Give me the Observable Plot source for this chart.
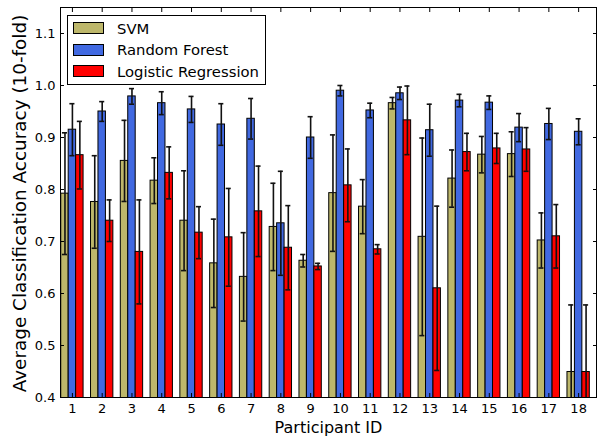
<!DOCTYPE html>
<html>
<head>
<meta charset="utf-8">
<script src="https://cdn.jsdelivr.net/npm/d3@7"></script>
<script src="https://cdn.jsdelivr.net/npm/@observablehq/plot@0.6"></script>
<style>
  html, body { margin: 0; padding: 0; background: #fff; }
  #wrap { position: relative; width: 597px; height: 436px; font-family: "DejaVu Sans", sans-serif; }
  #legend { position: absolute; left: 67px; top: 15px; width: 197px; height: 68px; border: 1px solid #000; background: #fff; }
  .row { position: absolute; left: 5px; height: 22px; display: flex; align-items: center; }
  .sw { width: 29px; height: 10px; border: 1px solid #000; margin-right: 13px; }
  .lt { font-size: 14.8px; color: #000; white-space: nowrap; }
</style>
</head>
<body>
<div id="wrap"></div>
<script>
const ids = [1,2,3,4,5,6,7,8,9,10,11,12,13,14,15,16,17,18];
const seriesNames = ["SVM", "Random Forest", "Logistic Regression"];
const seriesColors = ["#BDB76B", "#4169E1", "#FF0000"];
const svm    = [0.792,0.776,0.855,0.817,0.740,0.658,0.632,0.728,0.663,0.793,0.767,0.966,0.709,0.821,0.867,0.868,0.702,0.449];
const svmErr = [0.117,0.089,0.078,0.044,0.096,0.085,0.085,0.084,0.012,0.112,0.052,0.011,0.190,0.055,0.035,0.043,0.053,0.129];
const rf     = [0.915,0.950,0.979,0.966,0.954,0.925,0.936,0.735,0.900,0.990,0.952,0.985,0.914,0.971,0.967,0.919,0.926,0.911];
const rfErr  = [0.050,0.019,0.015,0.022,0.025,0.040,0.039,0.100,0.040,0.010,0.014,0.012,0.050,0.012,0.013,0.027,0.030,0.025];
const lr     = [0.866,0.740,0.680,0.832,0.717,0.708,0.758,0.688,0.652,0.808,0.685,0.933,0.610,0.872,0.879,0.877,0.710,0.449];
const lrErr  = [0.065,0.040,0.100,0.050,0.050,0.094,0.087,0.081,0.006,0.070,0.009,0.066,0.158,0.036,0.029,0.042,0.061,0.129];
const yTicks = [0.4,0.5,0.6,0.7,0.8,0.9,1.0,1.1];
const xLabel = "Participant ID";
const yLabel = "Average Classification Accuracy (10-fold)";

const barW = 0.25;
const values = [svm, rf, lr];
const errs = [svmErr, rfErr, lrErr];
const rows = [];
values.forEach((vals, s) => {
  ids.forEach((id, i) => {
    const x1 = id - 1.5 * barW + s * barW;
    rows.push({id, s, color: seriesColors[s], x1, x2: x1 + barW, xc: x1 + barW / 2,
      v: vals[i], lo: vals[i] - errs[s][i], hi: vals[i] + errs[s][i]});
  });
});
const capHalf = 0.085;

const chart = Plot.plot({
  width: 597,
  height: 436,
  marginLeft: 60,
  marginRight: 1,
  marginTop: 7,
  marginBottom: 39,
  style: {fontFamily: "DejaVu Sans, sans-serif", fontSize: "13px", color: "#000", background: "#fff"},
  x: {type: "linear", domain: [0.6, 18.6]},
  y: {domain: [0.4, 1.15]},
  marks: [
    Plot.rectY(rows, {x1: "x1", x2: "x2", y1: 0, y2: "v", fill: d => d.color, stroke: "#000", strokeWidth: 1, clip: true}),
    Plot.ruleX(rows, {x: "xc", y1: "lo", y2: "hi", stroke: "#111", strokeWidth: 1.6, clip: true}),
    Plot.ruleY(rows, {y: "hi", x1: d => d.xc - capHalf, x2: d => d.xc + capHalf, stroke: "#111", strokeWidth: 1.6, clip: true}),
    Plot.ruleY(rows, {y: "lo", x1: d => d.xc - capHalf, x2: d => d.xc + capHalf, stroke: "#111", strokeWidth: 1.6, clip: true}),
    Plot.frame({stroke: "#000", strokeWidth: 1}),
    Plot.axisX({ticks: ids, tickSize: -4, tickPadding: 10, tickFormat: d => String(d), label: null}),
    Plot.axisX({anchor: "top", ticks: ids, tickSize: -4, tickFormat: () => "", label: null}),
    Plot.axisY({ticks: yTicks, tickSize: -4, tickPadding: 9, tickFormat: d3.format(".1f"), label: null}),
    Plot.axisY({anchor: "right", ticks: yTicks, tickSize: -4, tickFormat: () => "", label: null}),
    Plot.text([xLabel], {text: d => d, frameAnchor: "bottom", textAnchor: "middle", dy: 35, fontSize: 16}),
    Plot.text([yLabel], {text: d => d, frameAnchor: "left", textAnchor: "middle", rotate: -90, dx: -40, dy: 1, fontSize: 18.4})
  ]
});

const wrap = document.getElementById("wrap");
wrap.appendChild(chart);

const legend = document.createElement("div");
legend.id = "legend";
seriesNames.forEach((name, s) => {
  const row = document.createElement("div");
  row.className = "row";
  row.style.top = (1 + s * 21.7) + "px";
  const sw = document.createElement("div");
  sw.className = "sw";
  sw.style.background = seriesColors[s];
  const t = document.createElement("span");
  t.className = "lt";
  t.textContent = name;
  row.appendChild(sw);
  row.appendChild(t);
  legend.appendChild(row);
});
wrap.appendChild(legend);
</script>
</body>
</html>
